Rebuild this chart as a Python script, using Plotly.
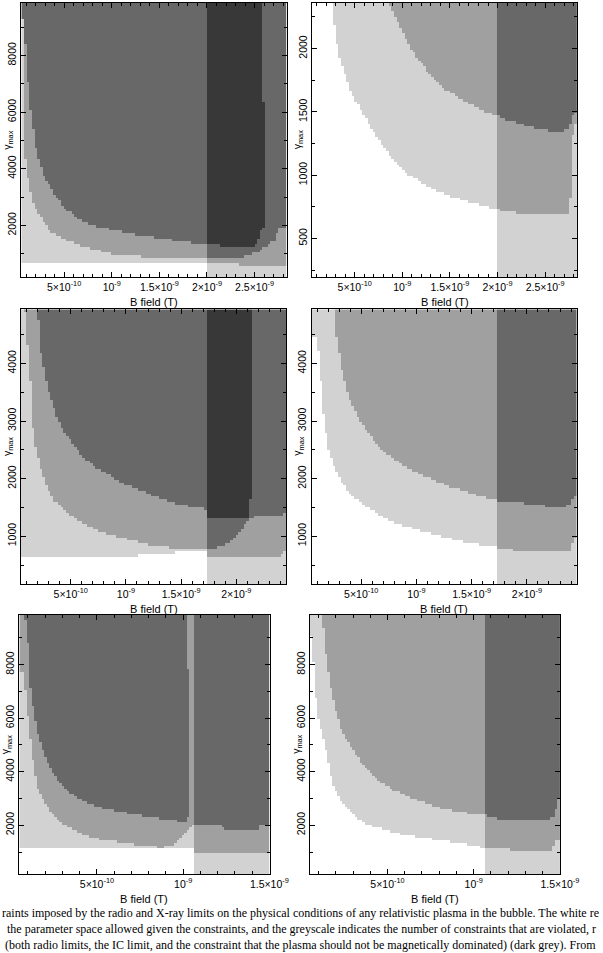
import numpy as np
import plotly.graph_objects as go

BIG = 1.0e6  # threshold outside the panel: constraint not reached there

# B field in units of 1e-9 T, gamma_max dimensionless
# ---------------- panel 1 (top left) ----------------
P1_B_RANGE = [0.05, 2.837]
P1_G_RANGE = [180, 9850]
P1_BC = 2.0
P1_LOW_B = [0.05, 2.32, 2.34, 2.9]
P1_LOW_G = [680, 680, 600, 600]
P1_H1_B = [0.05, 0.075, 0.085, 0.1, 0.165, 0.251, 0.37, 0.676, 1.05, 1.5, 1.9, 2.0, 2.3, 2.45, 2.55, 2.65, 2.72, 2.76, 2.9]
P1_H1_G = [9300, 9300, 4600, 4000, 2903, 2316, 1733, 1262, 970, 854, 830, 900, 850, 950, 1100, 1300, 1500, 1900, 1900]
P1_H2_B = [0.05, 0.075, 0.09, 0.1, 0.13, 0.15, 0.2, 0.25, 0.3, 0.4, 0.5, 0.6, 0.7, 0.8, 1.0, 1.2, 1.5, 1.8, 2.0, 2.2, 2.5, 2.515, 2.55, 2.566, 2.6, 2.62, 2.9]
P1_H2_G = [9300, 9300, 8500, 8000, 6500, 6000, 4750, 4100, 3700, 3100, 2650, 2350, 2150, 2000, 1850, 1700, 1560, 1400, 1330, 1270, 1265, 1380, 1560, 1790, 1910, 1950, 1950]
P1_H2_TOP_B = [0.05, 2.578, 2.579, 2.62, 2.621, 2.9]
P1_H2_TOP_G = [BIG, BIG, 6360, 6360, 0, 0]

# ---------------- panel 2 (top right) ----------------
P2_B_RANGE = [0.05, 2.837]
P2_G_RANGE = [195, 2360]
P2_BC = 2.0
P2_H1_B = [0.05, 0.262, 0.268, 0.285, 0.302, 0.336, 0.387, 0.438, 0.506, 0.608, 0.71, 0.812, 1.017, 1.187, 1.357, 1.527, 1.698, 2.004, 2.2, 2.37, 2.71, 2.76, 2.8, 2.9]
P2_H1_G = [BIG, BIG, 2359, 2211, 2080, 1948, 1816, 1698, 1592, 1461, 1329, 1210, 1026, 947, 881, 828, 789, 728, 702, 689, 689, 700, 1400, 1400]
P2_H2_B = [0.05, 0.855, 0.864, 0.95, 1.017, 1.085, 1.153, 1.255, 1.357, 1.459, 1.595, 1.732, 1.868, 2.004, 2.04, 2.2, 2.37, 2.54, 2.71, 2.76, 2.81, 2.9]
P2_H2_G = [BIG, BIG, 2340, 2217, 2112, 2006, 1927, 1835, 1743, 1677, 1611, 1559, 1506, 1467, 1453, 1414, 1380, 1353, 1353, 1388, 1493, 1500]

# ---------------- panel 3 (middle left) ----------------
P3_B_RANGE = [0.05, 2.453]
P3_G_RANGE = [170, 4940]
P3_BC = 1.722
P3_LOW_B = [0.05, 1.1, 1.11, 1.44, 1.45, 1.72, 1.73, 2.4, 2.43, 2.5]
P3_LOW_G = [653, 653, 687, 687, 745, 745, 650, 650, 720, 720]
P3_H1_B = [0.05, 0.08, 0.085, 0.143, 0.158, 0.187, 0.26, 0.348, 0.524, 0.67, 0.816, 1.08, 1.225, 1.444, 1.722, 1.8, 1.9, 1.98, 2.04, 2.1, 2.15, 2.5]
P3_H1_G = [BIG, BIG, 4926, 3479, 2900, 2495, 1974, 1627, 1337, 1163, 1047, 932, 845, 804, 786, 790, 850, 950, 1100, 1250, 1335, 1400]
P3_H2_B = [0.05, 0.195, 0.2, 0.216, 0.231, 0.26, 0.29, 0.334, 0.377, 0.436, 0.524, 0.611, 0.728, 0.874, 1.02, 1.167, 1.313, 1.46, 1.605, 1.72, 1.725, 2.11, 2.12, 2.146, 2.15, 2.5]
P3_H2_G = [BIG, BIG, 4926, 4520, 4173, 3884, 3594, 3305, 3074, 2842, 2610, 2379, 2205, 2032, 1887, 1771, 1655, 1569, 1511, 1482, 1335, 1335, 1655, 1655, BIG, BIG]

# ---------------- panel 4 (middle right) ----------------
P4_B_RANGE = [0.05, 2.453]
P4_G_RANGE = [170, 4940]
P4_BC = 1.722
P4_H1_B = [0.05, 0.078, 0.1, 0.128, 0.143, 0.172, 0.202, 0.26, 0.319, 0.377, 0.436, 0.553, 0.67, 0.787, 0.933, 1.08, 1.255, 1.43, 1.605, 1.722, 1.9, 2.4, 2.43, 2.5]
P4_H1_G = [4460, 4460, 4405, 3942, 3363, 2900, 2553, 2205, 1974, 1800, 1685, 1511, 1366, 1250, 1163, 1076, 989, 903, 845, 816, 757, 757, 960, 960]
P4_H2_B = [0.05, 0.255, 0.26, 0.275, 0.304, 0.333, 0.377, 0.436, 0.524, 0.611, 0.728, 0.874, 1.02, 1.167, 1.313, 1.46, 1.605, 1.722, 1.9, 2.07, 2.34, 2.4, 2.43, 2.5]
P4_H2_G = [BIG, BIG, 4926, 4520, 4173, 3826, 3479, 3189, 2900, 2668, 2437, 2234, 2089, 1974, 1858, 1771, 1685, 1627, 1598, 1540, 1511, 1569, 1685, 1685]

# ---------------- panel 5 (bottom left) ----------------
P5_B_RANGE = [0.05, 1.501]
P5_G_RANGE = [180, 9850]
P5_BC = 1.061
P5_LOW_B = [0.05, 0.7, 0.72, 1.06, 1.062, 1.6]
P5_LOW_G = [1100, 1100, 1170, 1170, 950, 950]
P5_H1_B = [0.05, 0.07, 0.078, 0.097, 0.115, 0.134, 0.162, 0.2, 0.256, 0.312, 0.406, 0.5, 0.631, 0.762, 0.874, 0.95, 0.986, 1.024, 1.056, 1.062, 1.23, 1.235, 1.435, 1.44, 1.6]
P5_H1_G = [7700, 7700, 7688, 6313, 5188, 4188, 3313, 2813, 2313, 2000, 1688, 1500, 1375, 1250, 1180, 1250, 1500, 1812, 2060, 2000, 2000, 1812, 1812, 2000, 2000]
P5_H2_B = [0.05, 0.078, 0.083, 0.098, 0.107, 0.115, 0.134, 0.153, 0.181, 0.209, 0.246, 0.303, 0.378, 0.452, 0.546, 0.677, 0.808, 0.939, 1.014, 1.023, 1.042, 1.043, 1.6]
P5_H2_G = [BIG, BIG, 9812, 9063, 8188, 7188, 6313, 5563, 4938, 4438, 3938, 3438, 3063, 2813, 2625, 2438, 2313, 2188, 2125, 2125, 2560, BIG, BIG]
P5_H2_TOP_B = [0.05, 1.022, 1.023, 1.042, 1.043, 1.6]
P5_H2_TOP_G = [BIG, BIG, 7810, 7810, BIG, BIG]

# ---------------- panel 6 (bottom right) ----------------
P6_B_RANGE = [0.05, 1.501]
P6_G_RANGE = [180, 9850]
P6_BC = 1.065
P6_H1_B = [0.05, 0.065, 0.078, 0.097, 0.144, 0.162, 0.19, 0.228, 0.293, 0.368, 0.499, 0.611, 0.742, 0.874, 1.005, 1.061, 1.2, 1.45, 1.48, 1.6]
P6_H1_G = [9063, 9063, 7313, 6063, 4813, 4188, 3438, 2938, 2438, 2063, 1813, 1625, 1500, 1375, 1250, 1125, 1100, 1060, 1400, 1563]
P6_H2_B = [0.05, 0.12, 0.125, 0.134, 0.153, 0.172, 0.2, 0.228, 0.265, 0.312, 0.368, 0.443, 0.537, 0.649, 0.78, 0.911, 1.061, 1.1, 1.2, 1.43, 1.47, 1.49, 1.6]
P6_H2_G = [BIG, BIG, 9812, 8938, 7938, 7188, 6313, 5688, 5188, 4688, 4188, 3688, 3313, 3000, 2688, 2500, 2375, 2313, 2188, 2188, 2375, 2938, 2938]

# tick labels
X_TICKS_A = [0.5, 1.0, 1.5, 2.0, 2.5]
X_TEXT_A = ["5×10<sup>-10</sup>", "10<sup>-9</sup>", "1.5×10<sup>-9</sup>", "2×10<sup>-9</sup>", "2.5×10<sup>-9</sup>"]
X_TICKS_B = [0.5, 1.0, 1.5, 2.0]
X_TEXT_B = X_TEXT_A[:4]
X_TICKS_C = [0.5, 1.0, 1.5]
X_TEXT_C = X_TEXT_A[:3]

CAPTION = [
    "raints imposed by the radio and X-ray limits on the physical conditions of any relativistic plasma in the bubble. The white re",
    "the parameter space allowed given the constraints, and the greyscale indicates the number of constraints that are violated, r",
    "(both radio limits, the IC limit, and the constraint that the plasma should not be magnetically dominated) (dark grey). From",
]

GREYS = ["#ffffff", "#d2d2d2", "#a0a0a0", "#686868", "#383838"]

W, H = 603, 953


def count_grid(b_rng, g_rng, nb, ng, bc, curves):
    be = np.linspace(b_rng[0], b_rng[1], nb + 1)
    bm = 0.5 * (be[:-1] + be[1:])
    ge = np.linspace(g_rng[0], g_rng[1], ng + 1)
    gm = 0.5 * (ge[:-1] + ge[1:])
    G = gm[:, None]
    z = np.zeros((ng, nb), dtype=int)
    for c in curves:
        lo = np.interp(bm, c[0], c[1])[None, :]
        hi = np.interp(bm, c[2], c[3])[None, :] if len(c) > 2 else np.inf
        z += ((G > lo) & (G < hi)).astype(int)
    z += (bm > bc)[None, :].astype(int)
    return bm, gm, z


panels = [
    (P1_B_RANGE, P1_G_RANGE, P1_BC,
     [(P1_LOW_B, P1_LOW_G), (P1_H1_B, P1_H1_G), (P1_H2_B, P1_H2_G, P1_H2_TOP_B, P1_H2_TOP_G)],
     (22, 296), (3, 277), X_TICKS_A, X_TEXT_A, [2000, 4000, 6000, 8000], 1000),
    (P2_B_RANGE, P2_G_RANGE, P2_BC,
     [(P2_H1_B, P2_H1_G), (P2_H2_B, P2_H2_G)],
     (322, 596), (3, 277), X_TICKS_A, X_TEXT_A, [500, 1000, 1500, 2000], 250),
    (P3_B_RANGE, P3_G_RANGE, P3_BC,
     [(P3_LOW_B, P3_LOW_G), (P3_H1_B, P3_H1_G), (P3_H2_B, P3_H2_G)],
     (21.7, 295.7), (309.3, 584), X_TICKS_B, X_TEXT_B, [1000, 2000, 3000, 4000], 500),
    (P4_B_RANGE, P4_G_RANGE, P4_BC,
     [(P4_H1_B, P4_H1_G), (P4_H2_B, P4_H2_G)],
     (321.7, 595.7), (309.3, 584), X_TICKS_B, X_TEXT_B, [1000, 2000, 3000, 4000], 500),
    (P5_B_RANGE, P5_G_RANGE, P5_BC,
     [(P5_LOW_B, P5_LOW_G), (P5_H1_B, P5_H1_G), (P5_H2_B, P5_H2_G, P5_H2_TOP_B, P5_H2_TOP_G)],
     (20, 278.3), (615, 874), X_TICKS_C, X_TEXT_C, [2000, 4000, 6000, 8000], 1000),
    (P6_B_RANGE, P6_G_RANGE, P6_BC,
     [(P6_H1_B, P6_H1_G), (P6_H2_B, P6_H2_G)],
     (320, 578.3), (615, 874), X_TICKS_C, X_TEXT_C, [2000, 4000, 6000, 8000], 1000),
]

fig = go.Figure()
layout = {}
annotations = []
SANS = "Liberation Sans, Arial, sans-serif"
tickfont = dict(family=SANS, size=10.5, color="black")
colorscale = [[i / 4, c] for i, c in enumerate(GREYS)]

for k, (brng, grng, bc, curves, xbox, ybox, xt, xtt, yt, ymin) in enumerate(panels, start=1):
    bm, gm, z = count_grid(brng, grng, 100, 100, bc, curves)
    sfx = "" if k == 1 else str(k)
    fig.add_trace(go.Heatmap(x=bm, y=gm, z=z, zmin=0, zmax=4, colorscale=colorscale,
                             showscale=False, hoverinfo="skip",
                             xaxis="x" + sfx, yaxis="y" + sfx))
    xd = [xbox[0] / W, xbox[1] / W]
    yd = [(H - ybox[1]) / H, (H - ybox[0]) / H]
    common = dict(showline=True, linecolor="black", linewidth=1, mirror="ticks",
                  ticks="inside", ticklen=5, tickwidth=1, tickcolor="black",
                  showgrid=False, zeroline=False, tickfont=tickfont)
    layout["xaxis" + sfx] = dict(domain=xd, range=brng, anchor="y" + sfx,
                                 tickmode="array", tickvals=xt, ticktext=xtt,
                                 minor=dict(dtick=0.1, tick0=0, ticks="inside", ticklen=3,
                                            tickcolor="black", showgrid=False),
                                 **common)
    layout["yaxis" + sfx] = dict(domain=yd, range=grng, anchor="x" + sfx,
                                 tickmode="array", tickvals=yt, ticktext=[str(v) for v in yt],
                                 tickangle=-90,
                                 minor=dict(dtick=ymin, tick0=0, ticks="inside", ticklen=3,
                                            tickcolor="black", showgrid=False),
                                 **common)
    xc = 0.5 * (xbox[0] + xbox[1])
    annotations.append(dict(text="B field (T)", x=xc / W, y=(H - (ybox[1] + 25)) / H,
                            xref="paper", yref="paper", showarrow=False,
                            xanchor="center", yanchor="middle",
                            font=dict(family=SANS, size=11, color="black")))
    annotations.append(dict(text="γ<sub>max</sub>", x=(xbox[0] - 14) / W,
                            y=(H - 0.5 * (ybox[0] + ybox[1])) / H,
                            xref="paper", yref="paper", showarrow=False, textangle=-90,
                            xanchor="center", yanchor="middle",
                            font=dict(family=SANS, size=10.5, color="black")))

for i, line in enumerate(CAPTION):
    annotations.append(dict(text=line, x=[0, 5, 3][i] / W, y=(H - [913, 929, 945][i]) / H,
                            xref="paper", yref="paper", showarrow=False,
                            xanchor="left", yanchor="middle",
                            font=dict(family="Liberation Serif, Times New Roman, serif", size=12, color="black")))

fig.update_layout(width=W, height=H, margin=dict(l=0, r=0, t=0, b=0),
                  paper_bgcolor="white", plot_bgcolor="white", showlegend=False,
                  annotations=annotations, **layout)
fig.write_html("out.html")
